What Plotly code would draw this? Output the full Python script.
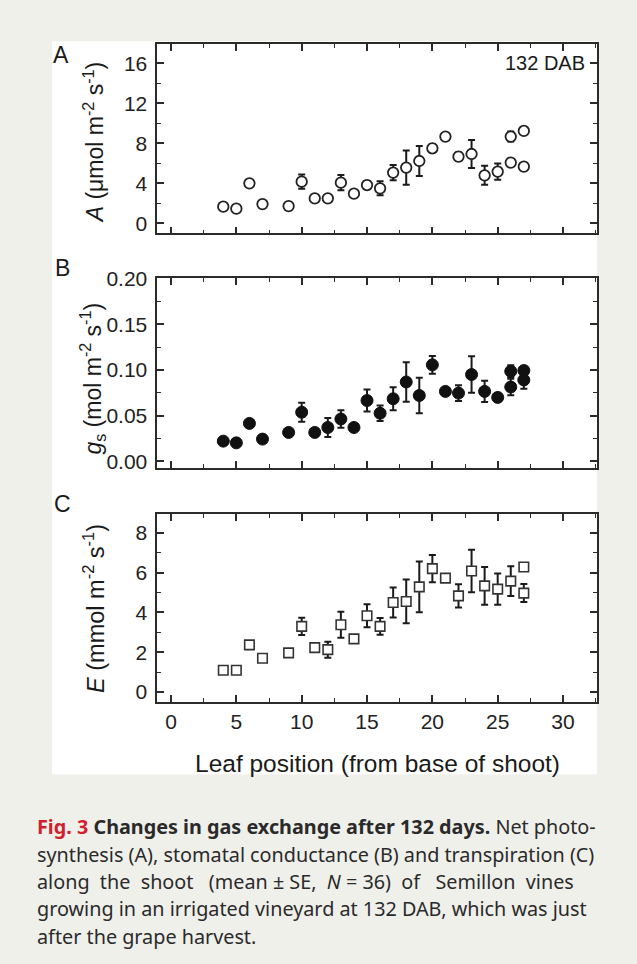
import plotly.graph_objects as go

# ---------------- data ----------------
leaf_AB = [4, 5, 6, 7, 9, 10, 11, 12, 13, 14, 15, 16, 17, 18, 19, 20, 21, 22, 23, 24, 25, 26, 26, 27, 27]
A_mean = [1.67, 1.47, 4.0, 1.93, 1.73, 4.17, 2.5, 2.5, 4.07, 2.97, 3.83, 3.5, 5.07, 5.57, 6.23,
          7.5, 8.67, 6.67, 6.93, 4.8, 5.17, 8.67, 6.07, 9.23, 5.67]
A_se = [0.35, 0.3, 0.3, 0.3, 0.35, 0.7, 0.3, 0.3, 0.75, 0.3, 0.4, 0.7, 0.75, 1.7, 1.5,
        0.4, 0.3, 0.4, 1.4, 0.95, 0.8, 0.5, 0.3, 0.3, 0.3]

gs_mean = [0.0221, 0.0202, 0.0415, 0.0243, 0.0316, 0.0537, 0.0316, 0.037, 0.0463, 0.037, 0.0665,
           0.0526, 0.0684, 0.0868, 0.072, 0.1055, 0.0765, 0.0746, 0.0949, 0.0765, 0.0699,
           0.0985, 0.0813, 0.0993, 0.089]
gs_se = [0.003, 0.003, 0.003, 0.003, 0.003, 0.0105, 0.003, 0.0105, 0.0097, 0.003, 0.012,
         0.0085, 0.0125, 0.0215, 0.0195, 0.0097, 0.004, 0.0085, 0.02, 0.0115, 0.004,
         0.0065, 0.009, 0.004, 0.0095]

leaf_C = [4, 5, 6, 7, 9, 10, 11, 12, 13, 14, 15, 16, 17, 18, 19, 20, 21, 22, 23, 24, 25, 26, 27, 27]
E_mean = [1.1, 1.1, 2.37, 1.7, 1.97, 3.3, 2.23, 2.13, 3.38, 2.67, 3.83, 3.3, 4.5, 4.55, 5.28,
          6.2, 5.72, 4.83, 6.08, 5.33, 5.17, 5.57, 6.28, 4.97]
E_se = [0.15, 0.15, 0.15, 0.15, 0.15, 0.43, 0.2, 0.4, 0.65, 0.2, 0.58, 0.42, 0.75, 1.1, 1.27,
        0.68, 0.15, 0.58, 1.07, 0.95, 0.78, 0.75, 0.2, 0.45]

x_ticks = [0, 5, 10, 15, 20, 25, 30]

# ---------------- layout helpers ----------------
W, H = 637, 964
def px(x):
    return x / W
def py(y):
    y = (y - 13.9) / 0.981
    return 1 - y / H

X0, X1 = px(157.3), px(597)
dom_A = [py(235), py(46)]
dom_B = [py(469), py(280)]
dom_C = [py(703), py(515)]

LINE = "#2b2b2b"
FONT = "Liberation Sans, Arial, sans-serif"

def x_axis(anchor, labels):
    return dict(range=[-1.05, 32.6], domain=[X0, X1], anchor=anchor,
                showline=True, linecolor=LINE, linewidth=1.6, mirror="ticks",
                ticks="inside", ticklen=7, tickwidth=1.6, tickcolor=LINE,
                tickmode="array", tickvals=x_ticks,
                minor=dict(dtick=2.5, tick0=0, ticks="inside", ticklen=4, tickwidth=1.3, tickcolor=LINE),
                showgrid=False, zeroline=False, showticklabels=labels,
                tickfont=dict(family=FONT, size=21, color="#222"),
                ticklabelstandoff=0)

def y_axis(anchor, dom, rng, dtick, mdtick, fmt=None):
    d = dict(range=rng, domain=dom, anchor=anchor,
             showline=True, linecolor=LINE, linewidth=1.6, mirror="ticks",
             ticks="inside", ticklen=7, tickwidth=1.6, tickcolor=LINE,
             tick0=0, dtick=dtick,
             minor=dict(dtick=mdtick, tick0=0, ticks="inside", ticklen=4, tickwidth=1.3, tickcolor=LINE),
             showgrid=False, zeroline=False,
             tickfont=dict(family=FONT, size=21, color="#222"),
             ticklabelstandoff=4)
    if fmt:
        d["tickformat"] = fmt
    return d

err_style = dict(type="data", visible=True, color="#1a1a1a", thickness=2, width=3.5)

fig = go.Figure()
fig.add_trace(go.Scatter(x=leaf_AB, y=A_mean, mode="markers", xaxis="x", yaxis="y",
                         error_y=dict(array=A_se, **err_style),
                         marker=dict(symbol="circle", size=10.5, color="white",
                                     line=dict(color="#222", width=1.8)),
                         showlegend=False))
fig.add_trace(go.Scatter(x=leaf_AB, y=gs_mean, mode="markers", xaxis="x2", yaxis="y2",
                         error_y=dict(array=gs_se, **err_style),
                         marker=dict(symbol="circle", size=12, color="#111",
                                     line=dict(color="#111", width=1)),
                         showlegend=False))
fig.add_trace(go.Scatter(x=leaf_C, y=E_mean, mode="markers", xaxis="x3", yaxis="y3",
                         error_y=dict(array=E_se, **err_style),
                         marker=dict(symbol="square", size=9.5, color="white",
                                     line=dict(color="#333", width=1.6)),
                         showlegend=False))

annotations = []
def ann(text, x, y, size, angle=0, xanchor="center", yanchor="middle", color="#1a1a1a", family=FONT):
    annotations.append(dict(text=text, x=px(x), y=py(y), xref="paper", yref="paper",
                            showarrow=False, textangle=angle, xanchor=xanchor, yanchor=yanchor,
                            font=dict(family=family, size=size, color=color)))

# panel letters
ann("A", 61, 57, 23)
ann("B", 62, 270, 23)
ann("C", 62, 505, 23)
# y titles
ann("<i>A</i> (μmol m<sup>-2</sup> s<sup>-1</sup>)", 94, 145, 23, angle=-90)
ann("<i>g</i><sub>s</sub> (mol m<sup>-2</sup> s<sup>-1</sup>)", 92, 380, 23, angle=-90)
ann("<i>E</i> (mmol m<sup>-2</sup> s<sup>-1</sup>)", 94, 610, 23.5, angle=-90)
# x title
ann("Leaf position (from base of shoot)", 377, 764, 24.5)
# in-panel label
ann("132 DAB", 587, 65, 20, xanchor="right")

# caption
CAP = "Noto Sans, Open Sans, sans-serif"
CAPC = "#2a2a2a"
cap_lines = [
    "<span style='color:#d01f2e'><b>Fig. 3</b></span> <b>Changes in gas exchange after 132 days.</b> Net photo-",
    "synthesis (A), stomatal conductance (B) and transpiration (C)",
    "along  the  shoot   (mean ± SE,  <i>N</i> = 36)  of   Semillon  vines",
    "growing in an irrigated vineyard at 132 DAB, which was just",
    "after the grape harvest.",
]
cap_y = [827, 855, 882, 909, 937]
for t, yy in zip(cap_lines, cap_y):
    ann(t, 35, yy, 19.8, xanchor="left", color=CAPC, family=CAP)

fig.update_layout(
    width=W, height=H, margin=dict(l=0, r=0, t=0, b=0),
    paper_bgcolor="#f0f0eb", plot_bgcolor="white",
    xaxis=x_axis("y", False), xaxis2=x_axis("y2", False), xaxis3=x_axis("y3", True),
    yaxis=y_axis("x", dom_A, [-1, 17.9], 4, 2),
    yaxis2=y_axis("x2", dom_B, [-0.007, 0.2], 0.05, 0.025, ".2f"),
    yaxis3=y_axis("x3", dom_C, [-0.5, 8.95], 2, 1),
    annotations=annotations,
    shapes=[dict(type="rect", xref="paper", yref="paper", x0=px(52), x1=px(597),
                 y0=py(775), y1=py(43), fillcolor="white", line=dict(width=0), layer="below")],
)

fig.write_html("out.html")
